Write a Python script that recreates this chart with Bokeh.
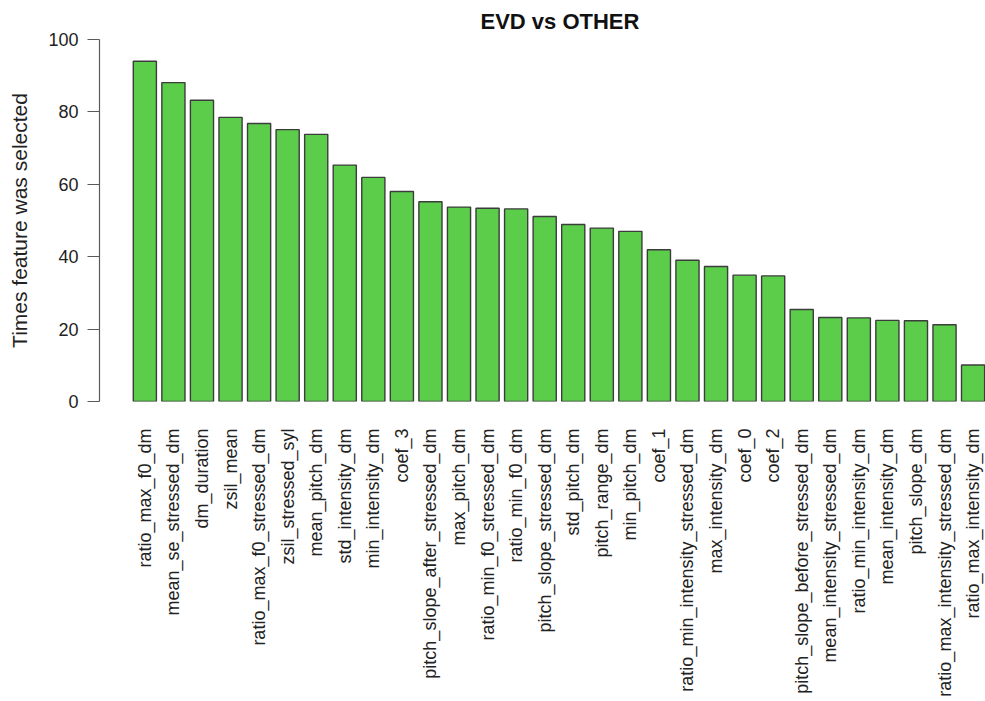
from math import pi
from bokeh.plotting import figure
from bokeh.models import Range1d, FixedTicker, Title, ColumnDataSource
from bokeh.embed import file_html
from bokeh.resources import INLINE

features = [
    "ratio_max_f0_dm", "mean_se_stressed_dm", "dm_duration", "zsil_mean",
    "ratio_max_f0_stressed_dm", "zsil_stressed_syl", "mean_pitch_dm",
    "std_intensity_dm", "min_intensity_dm", "coef_3",
    "pitch_slope_after_stressed_dm", "max_pitch_dm", "ratio_min_f0_stressed_dm",
    "ratio_min_f0_dm", "pitch_slope_stressed_dm", "std_pitch_dm",
    "pitch_range_dm", "min_pitch_dm", "coef_1",
    "ratio_min_intensity_stressed_dm", "max_intensity_dm", "coef_0", "coef_2",
    "pitch_slope_before_stressed_dm", "mean_intensity_stressed_dm",
    "ratio_min_intensity_dm", "mean_intensity_dm", "pitch_slope_dm",
    "ratio_max_intensity_stressed_dm", "ratio_max_intensity_dm",
]
times_selected = [
    94.0, 88.1, 83.2, 78.5, 76.8, 75.1, 73.8, 65.3, 61.9, 58.0,
    55.2, 53.7, 53.4, 53.2, 51.1, 48.9, 47.9, 47.0, 41.9, 39.0,
    37.3, 34.9, 34.7, 25.4, 23.2, 23.1, 22.4, 22.3, 21.2, 10.1,
]
y_ticks = [0, 20, 40, 60, 80, 100]
title_text = "EVD vs OTHER"

idx = list(range(len(features)))
src = ColumnDataSource(dict(x=idx, top=times_selected, name=features))

FONT = "Liberation Sans"

p = figure(
    width=985, height=701,
    x_range=Range1d(-1.588, 29.435), y_range=Range1d(0, 100),
    output_backend="svg", toolbar_location=None, tools="",
    min_border_left=99, min_border_right=0, min_border_top=39, min_border_bottom=300,
)
p.title = None
p.add_layout(Title(text=title_text, align="left", offset=381,
                   text_font=FONT, text_font_size="22px", text_font_style="bold",
                   text_color="#111111", standoff=11), "above")

p.vbar(x="x", top="top", bottom=0, width=0.81, source=src,
       fill_color="#5BCD4B", line_color="#3c3c3c", line_width=1.4)

p.xgrid.grid_line_color = None
p.ygrid.grid_line_color = None
p.outline_line_color = None
p.background_fill_color = "white"
p.border_fill_color = "white"

xa = p.xaxis[0]
xa.ticker = FixedTicker(ticks=idx)
xa.major_label_overrides = {i: f for i, f in zip(idx, features)}
xa.major_label_orientation = pi / 2
xa.axis_line_color = None
xa.major_tick_line_color = None
xa.minor_tick_line_color = None
xa.major_tick_out = 0
xa.major_tick_in = 0
xa.major_label_standoff = 27
xa.major_label_text_font = FONT
xa.major_label_text_font_size = "18px"
xa.major_label_text_color = "#222222"

ya = p.yaxis[0]
ya.ticker = FixedTicker(ticks=y_ticks)
ya.axis_line_color = "#5a5a5a"
ya.axis_line_width = 1.2
ya.major_tick_line_color = "#5a5a5a"
ya.major_tick_line_width = 1.2
ya.minor_tick_line_color = None
ya.major_tick_out = 12
ya.major_tick_in = 0
ya.major_label_standoff = 9
ya.major_label_text_font = FONT
ya.major_label_text_font_size = "18px"
ya.major_label_text_color = "#222222"
ya.axis_label = "Times feature was selected"
ya.axis_label_text_font = FONT
ya.axis_label_text_font_size = "21px"
ya.axis_label_text_font_style = "normal"
ya.axis_label_text_color = "#222222"
ya.axis_label_standoff = 14

open("out.html", "w").write(file_html(p, INLINE))
